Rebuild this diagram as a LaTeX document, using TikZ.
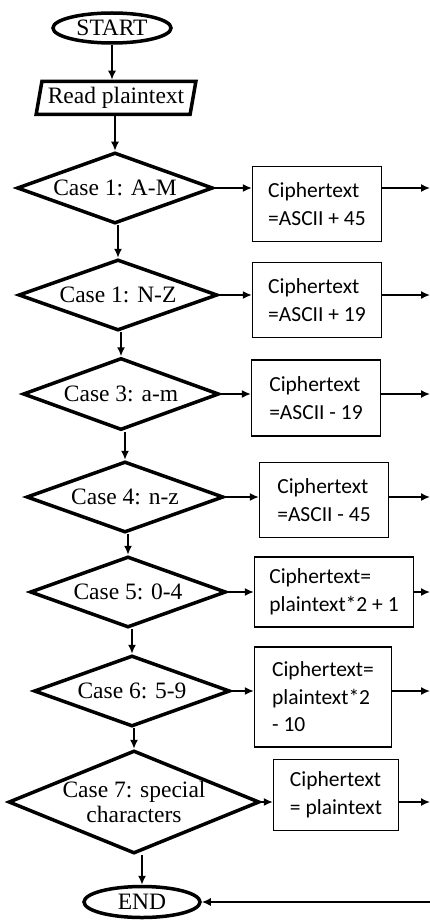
\documentclass[tikz,border=0pt]{standalone}
\usepackage{fontspec}
\setmainfont{Liberation Serif}
\newfontfamily\calibri{Carlito}
\usepackage{tikz}
\usetikzlibrary{arrows.meta}
\usetikzlibrary{shapes.geometric}
\tikzset{>={Latex[length=9pt,width=8pt]}}

\begin{document}
\begin{tikzpicture}[x=1pt,y=-1pt,font=\fontsize{23.5}{25}\selectfont,
	terminal/.style={draw,ellipse,line width=3.5pt,inner sep=0pt},
	inputbox/.style={draw,trapezium,trapezium left angle=76,trapezium right angle=104,trapezium stretches=true,line width=3.5pt,inner sep=0pt},
	decision/.style={draw,diamond,aspect=2.6,line width=3.5pt,inner sep=0pt,align=center},
	cipher/.style={draw,line width=1.3pt,inner sep=0pt,align=left,font=\calibri\fontsize{21.5}{27.5}\selectfont},
	flow/.style={->,line width=1.6pt}]
	\useasboundingbox (0,0) rectangle (430,920);
	\coordinate (rim) at (430,0);
	\node[terminal,minimum width=118,minimum height=30] (start) at (112,28) {START};
	\node[inputbox,minimum width=160,minimum height=33] (read) at (116,98) {Read plaintext};
	\node[decision,minimum width=196,minimum height=71] (case1) at (115,188) {Case 1: A-M};
	\node[decision,minimum width=199,minimum height=71] (case2) at (118,295) {Case 1: N-Z};
	\node[decision,minimum width=196,minimum height=72] (case3) at (121,394) {Case 3: a-m};
	\node[decision,minimum width=197,minimum height=71] (case4) at (125,497) {Case 4: n-z};
	\node[decision,minimum width=196,minimum height=71] (case5) at (128,592) {Case 5: 0-4};
	\node[decision,minimum width=196,minimum height=71] (case6) at (132,691) {Case 6: 5-9};
	\node[decision,minimum width=232,minimum height=103] (case7) at (134,802) {Case 7: special\\characters};
	\node[terminal,minimum width=116,minimum height=31] (end) at (142,902) {END};
	\node[cipher,minimum width=129,minimum height=75] (rule1) at (317,204) {Ciphertext\\=ASCII + 45};
	\node[cipher,minimum width=129,minimum height=75] (rule2) at (317,300) {Ciphertext\\=ASCII + 19};
	\node[cipher,minimum width=129,minimum height=76] (rule3) at (316,398) {Ciphertext\\=ASCII - 19};
	\node[cipher,minimum width=129,minimum height=75] (rule4) at (324,500) {Ciphertext\\=ASCII - 45};
	\node[cipher,minimum width=159,minimum height=70] (rule5) at (334,592) {Ciphertext=\\plaintext*2 + 1};
	\node[cipher,minimum width=137,minimum height=100] (rule6) at (323,697) {Ciphertext=\\plaintext*2\\- 10};
	\node[cipher,minimum width=125,minimum height=71] (rule7) at (336,795) {Ciphertext\\= plaintext};
	% main line
	\draw[flow] (start.south) -- (start.south |- read.north);
	\draw[flow] (case1.north |- read.south) -- (case1.north);
	\draw[flow] (case2.north |- case1.south) -- (case2.north);
	\draw[flow] (case3.north |- case2.south) -- (case3.north);
	\draw[flow] (case4.north |- case3.south) -- (case4.north);
	\draw[flow] (case5.north |- case4.south) -- (case5.north);
	\draw[flow] (case6.north |- case5.south) -- (case6.north);
	\draw[flow] (case7.north |- case6.south) -- (case7.north);
	\draw[flow] (end.north |- case7.south) -- (end.north);
	% cases to rules
	\draw[flow] (case1.east) -- (case1.east -| rule1.west);
	\draw[flow] (case2.east) -- (case2.east -| rule2.west);
	\draw[flow] (case3.east) -- (case3.east -| rule3.west);
	\draw[flow] (case4.east) -- (case4.east -| rule4.west);
	\draw[flow] (case5.east) -- (case5.east -| rule5.west);
	\draw[flow] (case6.east) -- (case6.east -| rule6.west);
	\draw[flow] (case7.east) -- (case7.east -| rule7.west);
	% rules out
	\draw[flow] (case1.east -| rule1.east) -- (case1.east -| rim);
	\draw[flow] (case2.east -| rule2.east) -- (case2.east -| rim);
	\draw[flow] (case3.east -| rule3.east) -- (case3.east -| rim);
	\draw[flow] (case4.east -| rule4.east) -- (case4.east -| rim);
	\draw[flow] (case5.east -| rule5.east) -- (case5.east -| rim);
	\draw[flow] (case6.east -| rule6.east) -- (case6.east -| rim);
	\draw[flow] (case7.east -| rule7.east) -- (case7.east -| rim);
	\draw[flow] (end.east -| rim) -- (end.east);
\end{tikzpicture}
\end{document}
